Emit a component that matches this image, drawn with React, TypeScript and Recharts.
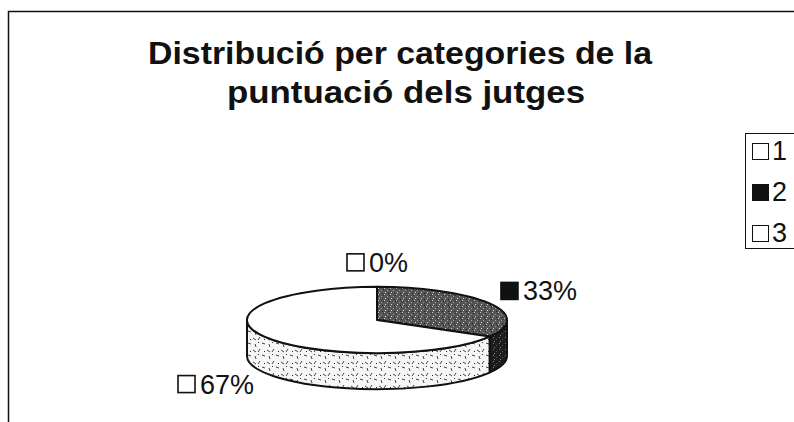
import React from 'react';
import { PieChart, Pie, Legend } from 'recharts';

// judges' score categories and how many fell in each
const categories = ['1', '2', '3'];
const counts = [0, 1, 2];

const titleLines = ['Distribució per categories de la', 'puntuació dels jutges'];

const TOP_FILLS = ['#ffffff', 'url(#halftone)', '#ffffff'];
const SIDE_FILLS = ['#ffffff', 'url(#halftone-dark)', 'url(#scribble)'];
const KEY_FILLS = ['#ffffff', '#111111', '#ffffff'];

const FONT = '"Liberation Sans", Arial, Helvetica, sans-serif';
const INK = '#111';
const TILT = 0.255;
const DEPTH = 36;
const RAD = Math.PI / 180;

const data = categories.map((name, i) => ({ name, value: counts[i] }));

const idxOf = (name: unknown) => categories.indexOf(String(name));

function Slice3D(props: any) {
  const { cx, cy, outerRadius, startAngle, endAngle } = props;
  const idx = idxOf(props.name ?? props.payload?.name);
  const rx = outerRadius;
  const ry = outerRadius * TILT;
  const hi = Math.max(startAngle, endAngle);
  const lo = Math.min(startAngle, endAngle);
  const span = hi - lo;
  if (span < 0.01) return <g />;

  const p = (a: number, dy = 0) =>
    `${cx + rx * Math.cos(a * RAD)},${cy - ry * Math.sin(a * RAD) + dy}`;

  // front half of the rim (sin < 0) gets a visible wall
  const walls: string[] = [];
  for (let k = -2; k <= 1; k++) {
    const a1 = Math.min(hi, 360 * k);
    const a2 = Math.max(lo, 360 * k - 180);
    if (a1 - a2 > 0.01) {
      const big = a1 - a2 > 180 ? 1 : 0;
      walls.push(
        `M${p(a1)} A${rx},${ry} 0 ${big} 1 ${p(a2)} L${p(a2, DEPTH)} A${rx},${ry} 0 ${big} 0 ${p(a1, DEPTH)} Z`
      );
    }
  }

  const big = span > 180 ? 1 : 0;
  const top =
    span >= 359.99
      ? `M${p(0)} A${rx},${ry} 0 1 1 ${p(180)} A${rx},${ry} 0 1 1 ${p(0)} Z`
      : `M${cx},${cy} L${p(hi)} A${rx},${ry} 0 ${big} 1 ${p(lo)} Z`;

  return (
    <g>
      {walls.map((d, i) => (
        <path key={i} d={d} fill={SIDE_FILLS[idx]} stroke={INK} strokeWidth={2} strokeLinejoin="round" />
      ))}
      <path d={top} fill={TOP_FILLS[idx]} stroke={INK} strokeWidth={2} strokeLinejoin="round" />
    </g>
  );
}

function SliceLabel(props: any) {
  const { cx, cy, outerRadius, midAngle, percent } = props;
  const idx = idxOf(props.name ?? props.payload?.name);
  const c = Math.cos(midAngle * RAD);
  const s = Math.sin(midAngle * RAD);
  const rx = outerRadius;
  const ry = outerRadius * TILT;
  const x = cx + (rx + 12) * c;
  const y = cy - (ry + 14) * s + (s < 0 ? DEPTH : 0);
  const text = `${Math.round(percent * 100)}%`;
  const fs = 27;
  const tw = ((text.length - 1) * 0.556 + 0.889) * fs;
  const total = 19 + 4 + tw;
  const left = c > 0.2 ? x : c < -0.2 ? x - total : x - total / 2;
  const base = y - 10 * s + 9;
  return (
    <g>
      <rect x={left + 1} y={base - 18} width={17} height={17} fill={KEY_FILLS[idx]} stroke={INK} strokeWidth={1.6} />
      <text x={left + 23} y={base} fontFamily={FONT} fontSize={fs} fill={INK}>
        {text}
      </text>
    </g>
  );
}

function LegendBox({ payload }: any) {
  return (
    <div
      style={{
        border: `1.5px solid ${INK}`,
        borderRight: 'none',
        width: 60,
        height: 116,
        boxSizing: 'border-box',
        fontFamily: FONT,
        fontSize: 27,
        color: INK,
        background: '#fff',
        overflow: 'visible',
      }}
    >
      <div style={{ marginTop: -3 }}>
        {(payload ?? []).map((entry: any) => {
          const idx = idxOf(entry.value);
          return (
            <div key={entry.value} style={{ display: 'flex', alignItems: 'center', height: 41 }}>
              <span
                style={{
                  display: 'inline-block',
                  width: 15,
                  height: 15,
                  border: `1.6px solid ${INK}`,
                  background: KEY_FILLS[idx],
                  marginLeft: 6,
                  marginRight: 3,
                }}
              />
              <span style={{ lineHeight: '27px' }}>{entry.value}</span>
            </div>
          );
        })}
      </div>
    </div>
  );
}

export default function App() {
  return (
    <div style={{ position: 'absolute', left: 0, top: 0, width: 794, height: 422, background: '#fff', overflow: 'hidden' }}>
      <PieChart width={794} height={422} margin={{ top: 0, right: 0, bottom: 0, left: 0 }}>
        <defs>
          <pattern id="halftone" width="6" height="6" patternUnits="userSpaceOnUse">
            <rect width="6" height="6" fill="#555" />
            <rect x="0" y="0" width="1" height="1" fill="#c8c8c8" />
            <rect x="3" y="2" width="1" height="1" fill="#a0a0a0" />
            <rect x="1" y="4" width="1" height="1" fill="#d8d8d8" />
            <rect x="4" y="5" width="1" height="1" fill="#222" />
            <rect x="5" y="1" width="1" height="1" fill="#2a2a2a" />
          </pattern>
          <pattern id="halftone-dark" width="6" height="6" patternUnits="userSpaceOnUse">
            <rect width="6" height="6" fill="#1d1d1d" />
            <rect x="1" y="1" width="1" height="1" fill="#777" />
            <rect x="4" y="3" width="1" height="1" fill="#555" />
            <rect x="2" y="5" width="1" height="1" fill="#888" />
          </pattern>
          <pattern id="scribble" width="14" height="12" patternUnits="userSpaceOnUse">
            <rect width="14" height="12" fill="#f6f6f6" />
            <path d="M1 2 l3 2 M8 1 l-2 3 M10 7 l3 1 M3 8 l1 3" stroke="#444" strokeWidth="1" />
            <rect x="12" y="3" width="1" height="1" fill="#222" />
            <rect x="6" y="6" width="1" height="1" fill="#333" />
          </pattern>
        </defs>

        <rect x={8.5} y={11.5} width={900} height={500} fill="none" stroke={INK} strokeWidth={1.5} />

        <text x={400} y={64} textAnchor="middle" fontFamily={FONT} fontWeight="bold" fontSize={32} fill={INK} textLength={504} lengthAdjust="spacingAndGlyphs">
          {titleLines[0]}
        </text>
        <text x={406} y={103} textAnchor="middle" fontFamily={FONT} fontWeight="bold" fontSize={32} fill={INK} textLength={358} lengthAdjust="spacingAndGlyphs">
          {titleLines[1]}
        </text>

        <Pie
          data={data}
          dataKey="value"
          nameKey="name"
          cx={377}
          cy={320}
          outerRadius={130}
          startAngle={90}
          endAngle={-270}
          isAnimationActive={false}
          shape={Slice3D}
          activeShape={Slice3D}
          inactiveShape={Slice3D}
          label={SliceLabel}
          labelLine={false}
        />

        <Legend
          content={LegendBox}
          layout="vertical"
          align="right"
          verticalAlign="top"
          wrapperStyle={{ left: 745, top: 133, right: 'auto', width: 60, height: 116 }}
        />
      </PieChart>
    </div>
  );
}
